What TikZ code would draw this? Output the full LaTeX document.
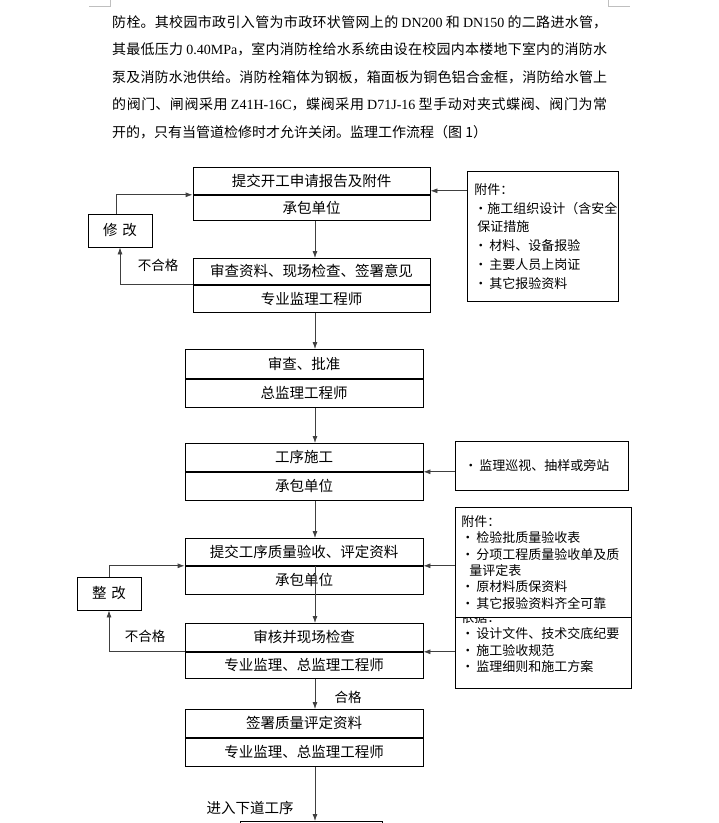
\documentclass[tikz,border=0pt]{standalone}
\usepackage{fontspec}
\setmainfont{Noto Sans CJK SC}
\newfontfamily\latin{Liberation Serif}
\usetikzlibrary{positioning, arrows.meta}
\newcommand\zhbreak{\XeTeXlinebreaklocale "zh"\XeTeXlinebreakskip=0pt plus 10pt\relax}
\newcommand\nozhbreak{\XeTeXlinebreaklocale ""\XeTeXlinebreakskip=0pt\relax}
\newcommand\fullline[1]{\parbox{495pt}{\parfillskip=0pt\relax #1}}

\begin{document}
\begin{tikzpicture}[
  x=1pt, y=-1pt,
  font=\fontsize{14.5}{17}\selectfont,
  stage/.style={draw, line width=0.8pt, minimum width=238pt, minimum height=27pt, inner sep=0pt},
  side/.style={draw, line width=0.8pt, fill=white, align=left, anchor=north west,
    inner ysep=0pt, font=\fontsize{13}{16.4}\selectfont\nozhbreak},
  fixbox/.style={draw, line width=0.8pt, minimum width=64pt, minimum height=33pt, inner sep=0pt},
  para/.style={anchor=west, inner sep=0pt, font=\fontsize{14}{16}\selectfont\zhbreak},
  tag/.style={inner sep=0pt, font=\fontsize{13.5}{16}\selectfont},
  flow/.style={-{Latex[length=7pt,width=5pt]}, draw=black!75, line width=0.8pt},
  cropmark/.style={draw=black!25, line width=0.8pt}
]
  \clip (0,0) rectangle (719,823);
  \fill[white] (0,0) rectangle (719,823);

  % page corner marks
  \draw[cropmark] (89,6) -- (110,6) -- (110,0);
  \draw[cropmark] (608,0) -- (608,6) -- (630,6);

  % text above the chart
  \node[para] (p1) at (112,22) {\fullline{防栓。其校园市政引入管为市政环状管网上的 {\latin DN200} 和 {\latin DN150} 的二路进水管，}};
  \node[para] (p2) at (112,49.5) {\fullline{其最低压力 {\latin 0.40MPa}，室内消防栓给水系统由设在校园内本楼地下室内的消防水}};
  \node[para] (p3) at (112,77) {\fullline{泵及消防水池供给。消防栓箱体为钢板，箱面板为铜色铝合金框，消防给水管上}};
  \node[para] (p4) at (112,104.5) {\fullline{的阀门、闸阀采用 {\latin Z41H-16C}，蝶阀采用 {\latin D71J-16} 型手动对夹式蝶阀、阀门为常}};
  \node[para] (p5) at (112,132) {开的，只有当管道检修时才允许关闭。监理工作流程（图 1）};

  \coordinate (spine) at (315,0);

  % main column
  \node[stage, minimum width=237pt, anchor=north] (a1) at (311.5,167) {提交开工申请报告及附件};
  \node[stage, minimum width=237pt, minimum height=25pt, below=0pt of a1] (a1u) {承包单位};
  \node[stage, minimum width=237pt, minimum height=26pt, anchor=north] (a2) at (311.5,258) {审查资料、现场检查、签署意见};
  \node[stage, minimum width=237pt, below=0pt of a2] (a2u) {专业监理工程师};
  \node[stage, minimum height=29pt, anchor=north] (a3) at (304,349) {审查、批准};
  \node[stage, minimum height=28pt, below=0pt of a3] (a3u) {总监理工程师};
  \node[stage, minimum height=28pt, anchor=north] (a4) at (304,443) {工序施工};
  \node[stage, minimum height=28pt, below=0pt of a4] (a4u) {承包单位};
  \node[stage, anchor=north] (a5) at (304,538) {提交工序质量验收、评定资料};
  \node[stage, minimum height=28pt, below=0pt of a5] (a5u) {承包单位};
  \node[stage, minimum height=28pt, anchor=north] (a6) at (304,623) {审核并现场检查};
  \node[stage, minimum height=26pt, below=0pt of a6] (a6u) {专业监理、总监理工程师};
  \node[stage, minimum height=28pt, anchor=north] (a7) at (304,709) {签署质量评定资料};
  \node[stage, minimum height=28pt, below=0pt of a7] (a7u) {专业监理、总监理工程师};
  \node[stage, minimum width=142pt, minimum height=30pt, anchor=north] (a8) at (311,821) {};

  % rework boxes
  \node[fixbox] (fix1) at (120,230.5) {修\,\,改};
  \node[fixbox] (fix2) at (109,593.5) {整\,\,改};

  % attachment boxes
  \node[side, text width=137pt, inner xsep=7pt, minimum height=130pt,
        font=\fontsize{13}{18.8}\selectfont\nozhbreak] (b1) at (467,171)
    {附件：\\·施工组织设计（含安全\\\hspace{3pt}保证措施\\·\hspace{2pt}材料、设备报验\\·\hspace{2pt}主要人员上岗证\\·\hspace{2pt}其它报验资料};
  \node[side, text width=155pt, inner xsep=9pt, minimum height=49pt] (b2) at (455,441)
    {·\hspace{2pt}监理巡视、抽样或旁站};
  \node[side, text width=164pt, inner xsep=6pt, minimum height=93pt] (b4) at (455,595)
    {依据：\\·\hspace{2pt}设计文件、技术交底纪要\\·\hspace{2pt}施工验收规范\\·\hspace{2pt}监理细则和施工方案};
  \node[side, text width=164pt, inner xsep=6pt, minimum height=110pt] (b3) at (455,507)
    {附件：\\·\hspace{2pt}检验批质量验收表\\·\hspace{2pt}分项工程质量验收单及质\\\hspace{8pt}量评定表\\·\hspace{2pt}原材料质保资料\\·\hspace{2pt}其它报验资料齐全可靠};

  % labels
  \node[tag] (ng1) at (158,265) {不合格};
  \node[tag] (ng2) at (145,636) {不合格};
  \node[tag] (ok) at (348,697) {合格};
  \node[tag, font=\fontsize{14.5}{16}\selectfont] (next) at (250,808) {进入下道工序};

  % connectors
  \draw[flow] (a1u.south -| spine) -- (a2.north -| spine);
  \draw[flow] (a2u.south -| spine) -- (a3.north -| spine);
  \draw[flow] (a3u.south -| spine) -- (a4.north -| spine);
  \draw[flow] (a4u.south -| spine) -- (a5.north -| spine);
  \draw[flow] (a5.south -| spine) -- (a6.north -| spine);
  \draw[flow] (a6u.south -| spine) -- (a7.north -| spine);
  \draw[flow] (a7u.south -| spine) -- (a8.north -| spine);

  \draw[flow] ([xshift=-4pt]fix1.north) |- (a1.south west);
  \draw[flow] (a2.south west) -| (fix1.south);
  \draw[flow] (fix2.north) |- (a5.south west);
  \draw[flow] (a6.south west) -| (fix2.south);

  \draw[flow] ([yshift=4pt]b1.west |- a1.south east) -- ([yshift=4pt]a1.south east);
  \draw[flow] (b2.west |- a4.south) -- (a4.south east);
  \draw[flow] (b3.west |- a5.south) -- (a5.south east);
  \draw[flow] (b4.west |- a6.south) -- (a6.south east);
\end{tikzpicture}
\end{document}
